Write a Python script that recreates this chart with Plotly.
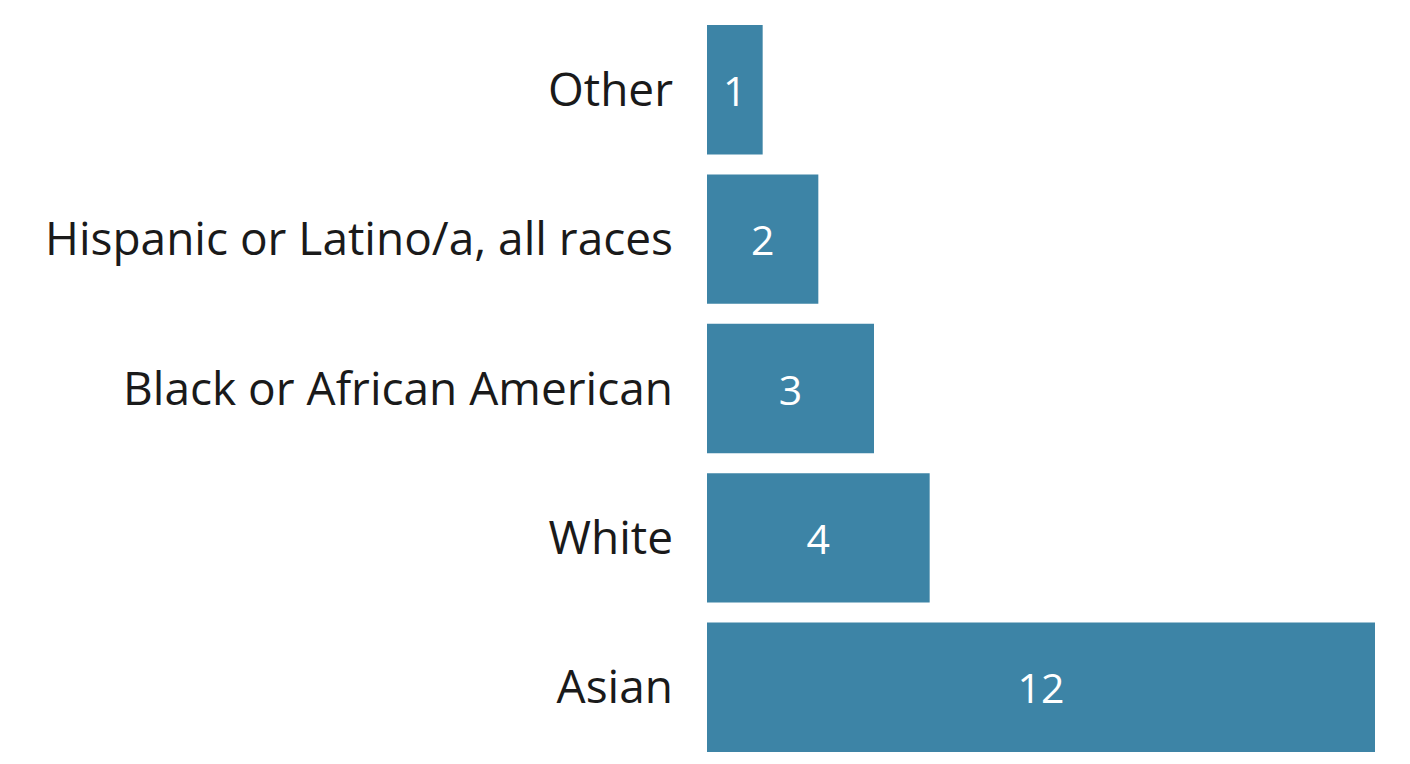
import plotly.graph_objects as go

categories = ["Asian", "White", "Black or African American",
              "Hispanic or Latino/a, all races", "Other"]
counts = [12, 4, 3, 2, 1]

BAR_COLOR = "#3d84a6"
FONT = "Open Sans, Noto Sans, sans-serif"

fig = go.Figure(go.Bar(
    x=counts,
    y=categories,
    orientation="h",
    marker=dict(color=BAR_COLOR, line=dict(width=0)),
    text=[str(v) for v in counts],
    textposition="inside",
    insidetextanchor="middle",
    textfont=dict(color="white", size=41, family=FONT),
    hoverinfo="skip",
))

fig.update_layout(
    width=1410,
    height=764,
    bargap=0.134,
    plot_bgcolor="white",
    paper_bgcolor="white",
    showlegend=False,
    margin=dict(t=7, b=10, l=699, r=43),
    uniformtext=dict(minsize=41, mode="show"),
    xaxis=dict(range=[0, 12], visible=False),
    yaxis=dict(
        categoryorder="array",
        categoryarray=categories,
        showgrid=False,
        showline=False,
        ticks="",
        ticklabelstandoff=33,
        tickfont=dict(size=46, color="#1a1a1a", family=FONT),
    ),
)

fig.write_html("out.html")
